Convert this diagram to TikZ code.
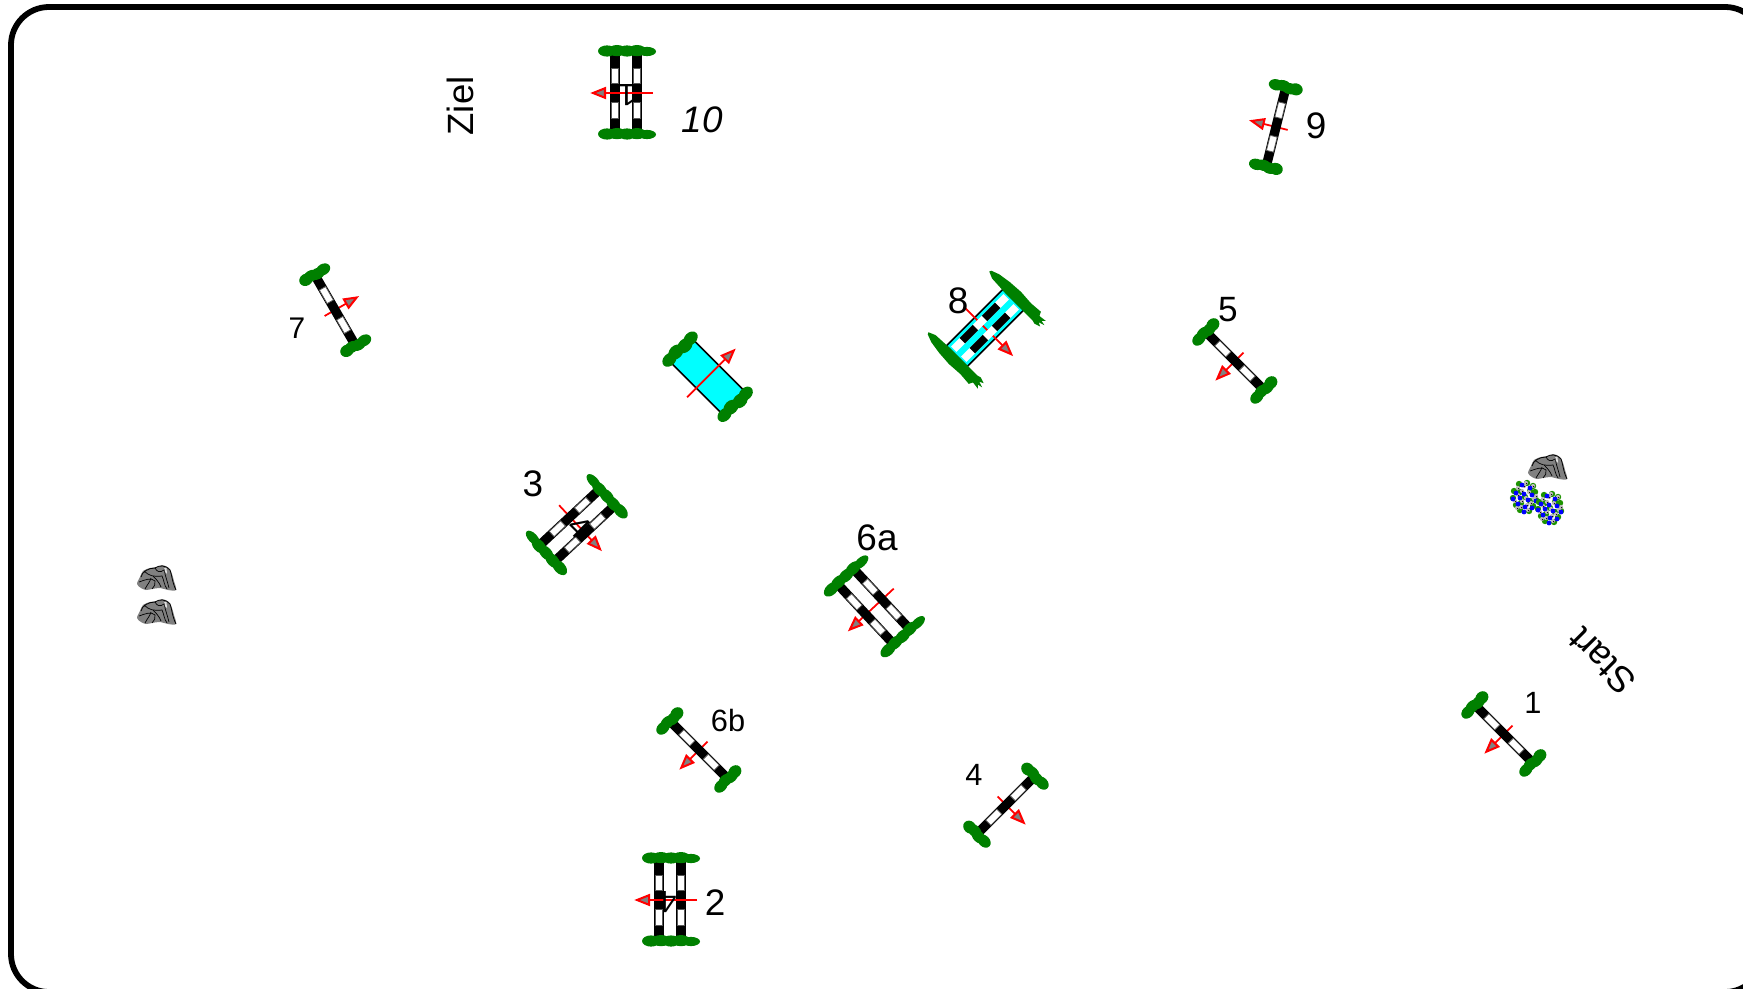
\documentclass[tikz,border=0pt]{standalone}
\usepackage{fontspec}
\setmainfont{Liberation Sans}
\definecolor{bushgreen}{RGB}{0,128,0}
\definecolor{stonegray}{RGB}{128,128,128}
\definecolor{pondcyan}{RGB}{0,255,255}
\newcommand{\jumpbar}[1]{%
  \fill[black] (#1-4.7,-38.5) rectangle (#1+4.7,38.5);
  \filldraw[fill=white,draw=black!65,line width=.45pt] (#1-3.6,9.5) rectangle (#1+3.6,25);
  \filldraw[fill=white,draw=black!65,line width=.45pt] (#1-3.6,-25) rectangle (#1+3.6,-9.5);
}
\newcommand{\thinbar}[1]{%
  \fill[white] (#1-3.8,-37) rectangle (#1+3.8,37);
  \fill[black] (#1-3.8,6.5) rectangle (#1+3.8,25);
  \fill[black] (#1-3.8,-25) rectangle (#1+3.8,-6.5);
}
\newcommand{\shrubS}[1]{%
  \fill[bushgreen] (-10,#1) ellipse (7.5 and 5.6);
  \fill[bushgreen] (-3,#1+.8) ellipse (8 and 5.6);
  \fill[bushgreen] (4,#1-.5) ellipse (8 and 5.6);
  \fill[bushgreen] (10,#1+.3) ellipse (7 and 6);
}
\newcommand{\shrubM}[1]{%
  \fill[bushgreen] (-15,#1) ellipse (8 and 6);
  \fill[bushgreen] (-6,#1+1) ellipse (8.5 and 6.5);
  \fill[bushgreen] (5,#1-.8) ellipse (8.5 and 6.5);
  \fill[bushgreen] (15,#1) ellipse (8 and 6);
}
\newcommand{\shrubD}[1]{%
  \fill[bushgreen] (-19,#1) ellipse (9 and 5.6);
  \fill[bushgreen] (-9,#1+.4) ellipse (9 and 5.6);
  \fill[bushgreen] (1,#1) ellipse (9 and 5.6);
  \fill[bushgreen] (11,#1+.4) ellipse (9 and 5.6);
  \fill[bushgreen] (21,#1-.5) ellipse (9 and 4.6);
}
\newcommand{\flag}[2]{%
  \draw[red,line width=1pt] (#1,0) -- (#2+10,0);
  \filldraw[fill=stonegray,draw=red,line width=1.15pt,line join=miter]
     (#2,0) -- (#2+12,4.8) -- (#2+12,-4.8) -- cycle;
}
\tikzset{
  single/.pic={\flag{12}{-25}\jumpbar{0}\shrubS{41}\shrubS{-41}},
  double/.pic={\flag{27}{-33}\jumpbar{-11}\jumpbar{11}\shrubD{42}\shrubD{-41}},
  doubletop/.pic={\jumpbar{-11}\jumpbar{11}\shrubD{42}\shrubD{-41}\flag{27}{-33}},
  pond/.pic={
    \filldraw[fill=pondcyan,draw=black,line width=.9pt] (-16,-37) rectangle (16,37);
    \flag{29}{-37}
    \shrubM{39}\shrubM{-39}},
  pondjump/.pic={
    \filldraw[fill=pondcyan,draw=black,line width=.9pt] (-14.6,-40) rectangle (14.6,40);
    \flag{30}{-37}
    \thinbar{-7}\thinbar{7}
    \foreach \s in {1,-1}{
      \fill[bushgreen,xscale=-1,yscale=\s]
        (-37,43) -- (-30,40) -- (-10,39) -- (10,39) -- (28,39) -- (32,38) -- (38,40) -- (34,42)
        -- (40,44) -- (35,45) -- (38,48) -- (30,47) -- (28,51) -- (15,50) -- (0,51)
        -- (-15,50) -- (-28,48) -- (-36,45) -- cycle;}
  },
  stone/.pic={
    \fill[stonegray] plot[smooth cycle,tension=.55] coordinates
      {(-19,-5) (-16,2) (-13,8) (-6,11) (1,12) (6,14) (13,11) (16,5) (18,-2) (20,-11) (12,-11) (4,-9) (-4,-10) (-10,-11) (-15,-9)};
    \draw[black,line width=.45pt] (-15,2) .. controls (-14,7) and (-8,11) .. (-1,11) .. controls (3,14) and (10,14) .. (14,9) .. controls (16,4) and (16,-3) .. (20,-11);
    \draw[black,line width=.4pt] (-12,8) .. controls (-7,3) and (-2,2) .. (6,3) .. controls (8,-1) and (8,-6) .. (11,-10);
    \draw[black,line width=.4pt] (-1,11) .. controls (1,7) and (4,6) .. (8,9);
    \draw[black,line width=.4pt] (-17,-3) .. controls (-11,-1) and (-5,2) .. (-1,-2) .. controls (0,-5) and (-2,-8) .. (-4,-10);
    \draw[black,line width=.4pt] (-3,3) .. controls (0,0) and (3,-3) .. (5,-8);
    \draw[black,line width=.4pt] (-11,-10) .. controls (-9,-6) and (-6,-3) .. (-5,1);
    \draw[black,line width=.4pt] (9,13) .. controls (7,8) and (10,3) .. (13,-9);
    \fill[white!75!gray] (8,11.5) -- (10.5,11) -- (11,5) -- (9,7) -- cycle;
  },
  clump/.pic={
    \foreach \p in {(-6,13),(2,14),(8,11),(-11,6),(10,5),(-12,-1),(11,-3),(-9,-8),(8,-9),(-5,-13),(4,-14),(0,0),(-5,5),(5,-4),(-4,-6),(5,6)}
      \fill[bushgreen!85!lime] \p circle (3.2);
    \foreach \p in {(-7,9),(1,14),(8,11),(-3,6),(4,5),(-7,2),(-10,-4),(1,-1),(6,-6),(-3,-4),(-8,-11),(3,-13),(11,1),(-1,11),(9,-2),(-4,-10),(2,-8)}
      {\fill[gray!55] \p circle (2.1); \fill[black] \p ++(.7,-.7) circle (.7);}
    \foreach \p in {(-3,12),(5,9),(-9,4),(-1,3),(7,2),(-12,-2),(-5,-1),(3,-3),(11,-4),(-7,-7),(0,-10),(7,-11),(-1,-15)}
      \fill[blue] \p circle (2.4);
  }
}
\begin{document}
\begin{tikzpicture}[x=0.02cm,y=0.02cm,
  lab/.style={inner sep=0pt,text=black}]
\useasboundingbox (0,0) rectangle (1743,-989);
\begin{scope}
\clip (0,0) rectangle (1743,-989);
\draw[black,line width=3.3pt,rounded corners=0.76cm] (11,-7) rectangle (1763,-992);
\end{scope}

% single jumps
\pic[rotate=45]  (j1)  at (1504,-734) {single};
\pic[rotate=135] (j4)  at (1006,-805) {single};
\pic[rotate=45]  (j5)  at (1235,-361) {single};
\pic[rotate=45]  (j6b) at (699,-750)  {single};
\pic[rotate=210] (j7)  at (335,-310)  {single};
\pic[rotate=-14] (j9)  at (1276,-127) {single};
% double jumps
\pic (j10) at (626,-93) {doubletop};
\pic (j2)  at (670,-900) {doubletop};
\pic[rotate=133] (j3)  at (577.5,-525) {double};
\pic[rotate=43]  (j6a) at (874,-607)   {double};
% water jumps
\pic[rotate=225] (w1) at (707.6,-376.7) {pond};
\pic[rotate=135] (j8) at (985,-328)     {pondjump};
% stones and flowers
\pic (s1) at (156,-579) {stone};
\pic (s2) at (156,-613) {stone};
\pic (s3) at (1547,-468) {stone};
\pic (f1) at (1525,-497) {clump};
\pic (f2) at (1550,-508) {clump};

% labels
\node[lab,rotate=90,font=\fontsize{20.8pt}{24pt}\selectfont] (ziel) at (460,-106) {Ziel};
\node[lab,rotate=135,font=\fontsize{20.8pt}{24pt}\selectfont] (start) at (1602,-661) {Start};
\node[lab,font=\itshape\fontsize{21pt}{24pt}\selectfont] (n10) at (702,-120) {10};
\node[lab,font=\fontsize{21pt}{24pt}\selectfont] (n9) at (1316,-126) {9};
\node[lab,font=\fontsize{17pt}{20pt}\selectfont] (n7) at (297,-328) {7};
\node[lab,font=\fontsize{21pt}{24pt}\selectfont] (n8) at (958,-301) {8};
\node[lab,font=\fontsize{20pt}{23pt}\selectfont] (n5) at (1228,-310) {5};
\node[lab,font=\fontsize{21pt}{24pt}\selectfont] (n3) at (533,-484) {3};
\node[lab,font=\fontsize{21pt}{24pt}\selectfont] (n6a) at (877,-538) {6a};
\node[lab,font=\fontsize{17.5pt}{20pt}\selectfont] (n6b) at (728,-721) {6b};
\node[lab,font=\fontsize{17.5pt}{20pt}\selectfont] (n1) at (1533,-703) {1};
\node[lab,font=\fontsize{17.5pt}{20pt}\selectfont] (n4) at (974,-775) {4};
\node[lab,font=\fontsize{21pt}{24pt}\selectfont] (n2) at (715,-903) {2};
% numbers on the double jumps
\node[lab,rotate=180,font=\fontsize{17.5pt}{20pt}\selectfont] (h10) at (627,-95) {1};
\node[lab,rotate=180,font=\fontsize{17.5pt}{20pt}\selectfont] (h2) at (668,-902) {4};
\node[lab,rotate=315,font=\fontsize{18pt}{20pt}\selectfont] (h3) at (579,-527) {4};
\end{tikzpicture}
\end{document}
